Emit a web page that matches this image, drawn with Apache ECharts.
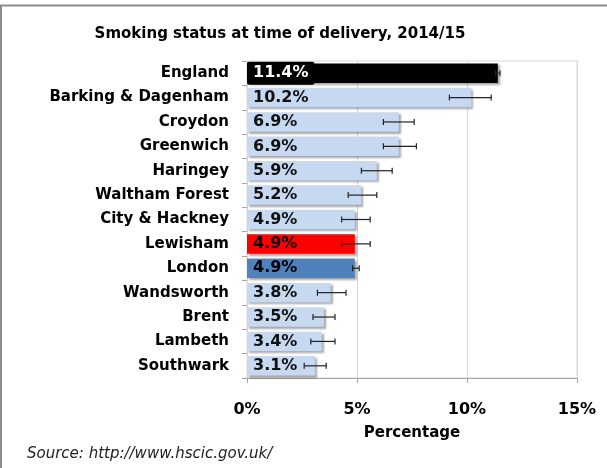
<!DOCTYPE html>
<html>
<head>
<meta charset="utf-8">
<script src="https://cdn.jsdelivr.net/npm/echarts@6/dist/echarts.min.js"></script>
<style>
  html, body { margin: 0; padding: 0; background: #fff; }
  #chart { width: 607px; height: 468px; }
</style>
</head>
<body>
<div id="chart"></div>
<script>
// Smoking status at time of delivery, 2014/15 - horizontal bars with 95% CI whiskers

const categories = ['England', 'Barking & Dagenham', 'Croydon', 'Greenwich', 'Haringey',
  'Waltham Forest', 'City & Hackney', 'Lewisham', 'London', 'Wandsworth', 'Brent',
  'Lambeth', 'Southwark'];
const values = [11.4, 10.2, 6.9, 6.9, 5.9, 5.2, 4.9, 4.9, 4.9, 3.8, 3.5, 3.4, 3.1];
const ciLower = [11.3, 9.2, 6.2, 6.2, 5.2, 4.6, 4.3, 4.3, 4.8, 3.2, 3.0, 2.9, 2.6];
const ciUpper = [11.5, 11.1, 7.6, 7.7, 6.6, 5.9, 5.6, 5.6, 5.1, 4.5, 4.0, 4.0, 3.6];
const xTicks = [0, 5, 10, 15];

const FONT = '"DejaVu Sans", Verdana, sans-serif';

// highlighted bars
const highlight = {
  'England': { color: '#000000', text: '#ffffff' },
  'Lewisham': { color: '#ff0000', text: '#000000' },
  'London': { color: '#4f81bd', text: '#000000' }
};

const barData = values.map((v, i) => {
  const h = highlight[categories[i]];
  const item = {
    value: v,
    itemStyle: { color: h ? h.color : '#c6d9f1' },
    label: { color: h ? h.text : '#111' }
  };
  if (categories[i] === 'England') {
    item.label.backgroundColor = '#000';
    item.label.padding = [4, 6, 3, 6];
    item.label.borderRadius = 2;
    item.label.distance = 0;
  }
  return item;
});

const errData = categories.map((c, i) => [ciLower[i], ciUpper[i], i]);

function renderError(params, api) {
  const idx = api.value(2);
  const lo = api.coord([api.value(0), idx]);
  const hi = api.coord([api.value(1), idx]);
  const cap = 3;
  const style = { stroke: '#222', lineWidth: 1.2 };
  return {
    type: 'group',
    children: [
      { type: 'line', shape: { x1: lo[0], y1: lo[1], x2: hi[0], y2: hi[1] }, style },
      { type: 'line', shape: { x1: lo[0], y1: lo[1] - cap, x2: lo[0], y2: lo[1] + cap }, style },
      { type: 'line', shape: { x1: hi[0], y1: hi[1] - cap, x2: hi[0], y2: hi[1] + cap }, style }
    ]
  };
}

const chart = echarts.init(document.getElementById('chart'), null, { renderer: 'canvas' });

chart.setOption({
  animation: false,
  backgroundColor: '#fff',
  title: {
    text: 'Smoking status at time of delivery, 2014/15',
    left: 275,
    top: 22,
    textAlign: 'center',
    textStyle: { fontFamily: FONT, fontSize: 15, fontWeight: 'bold', color: '#000' }
  },
  graphic: [
    { type: 'line', shape: { x1: 0, y1: 5.5, x2: 607, y2: 5.5 }, style: { stroke: '#8c8c8c', lineWidth: 2 } },
    { type: 'line', shape: { x1: 1, y1: 5, x2: 1, y2: 468 }, style: { stroke: '#8c8c8c', lineWidth: 2 } },
    {
      type: 'text', left: 27, top: 447,
      style: { text: 'Source: http://www.hscic.gov.uk/', font: 'italic 15px ' + FONT, fill: '#222' }
    }
  ],
  grid: {
    left: 247, right: 30, top: 61, bottom: 90,
    show: true, borderColor: '#d9d9d9', borderWidth: 1
  },
  xAxis: {
    type: 'value',
    min: 0, max: 15, interval: 5,
    name: 'Percentage',
    nameLocation: 'middle',
    nameGap: 48,
    nameTextStyle: { fontFamily: FONT, fontSize: 15, fontWeight: 'bold', color: '#000' },
    axisLine: { show: true, lineStyle: { color: '#a6a6a6' } },
    axisTick: { show: true, length: 5, lineStyle: { color: '#a6a6a6' } },
    axisLabel: {
      margin: 24,
      fontFamily: FONT, fontSize: 16, fontWeight: 'bold', color: '#000',
      formatter: v => xTicks.includes(v) ? v + '%' : ''
    },
    splitLine: { show: true, lineStyle: { color: '#d9d9d9' } }
  },
  yAxis: {
    type: 'category',
    inverse: true,
    data: categories,
    axisLine: { show: true, lineStyle: { color: '#d9d9d9' } },
    axisTick: { show: true, length: 5, lineStyle: { color: '#a6a6a6' } },
    axisLabel: {
      margin: 18,
      fontFamily: FONT, fontSize: 15, fontWeight: 'bold', color: '#000'
    }
  },
  series: [
    {
      type: 'bar',
      data: barData,
      barCategoryGap: '20%',
      itemStyle: {
        shadowColor: 'rgba(0,0,0,0.35)',
        shadowBlur: 2,
        shadowOffsetX: 2,
        shadowOffsetY: 2
      },
      label: {
        show: true,
        position: 'insideLeft',
        distance: 6,
        formatter: p => p.value.toFixed(1) + '%',
        fontFamily: FONT, fontSize: 16, fontWeight: 'bold'
      },
      z: 2
    },
    {
      type: 'custom',
      renderItem: renderError,
      data: errData,
      encode: { x: [0, 1], y: 2 },
      z: 5
    }
  ]
});
</script>
</body>
</html>
